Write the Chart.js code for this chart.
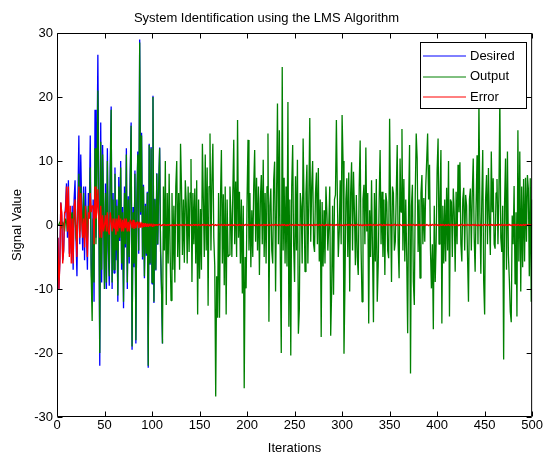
<!DOCTYPE html>
<html>
<head>
<title>System Identification using the LMS Algorithm</title>
<script src="https://cdn.jsdelivr.net/npm/chart.js"></script>
<style>
  body { margin: 0; background: #fff; }
</style>
</head>
<body>
<canvas id="chart" width="544" height="458"></canvas>
<script>
// tick labels
const xTicks = [0, 50, 100, 150, 200, 250, 300, 350, 400, 450, 500];
const yTicks = [-30, -20, -10, 0, 10, 20, 30];

// iterations 1-110: filter still adapting, output differs from desired
const desiredHead = [
  -2, -10, -5.5, 3.5, 1.5, -5.5, -4, 1, 3, 6.5,
  -2, 7, -4.5, 2, -4.5, 3, -7, 4, 7, -2,
  -8, 4, 14, -3, 11, 3, -4, 6, -5.5, 6,
  -1, -7, 5, 2, 14, -6, -12, 4, -12, 18,
  -2, 9, 26.6, 5, -22, 16, -9, 12.5, 2, -10,
  6.5, -10, 12, -4, -9.5, 9, 18.5, -10, 5, -7.5,
  9, -5.5, 4, -12, 7.5, -2.5, 10, -7, 2.8, -13,
  6, -3.5, 12, -10, 4.5, -6, 7.8, 16, -19.5, 2.8,
  -6.6, 8.5, -18.5, 3.4, 11.5, -4.5, 29, 1.6, 14.4, -5.4,
  6.3, -8.3, 3.3, -4.8, 5.2, -22.3, 12.7, -6.2, 12.2, -9.2,
  20.2, -12.2, 4.1, -7.1, 8.1, -3.1, 6.1, 12.1, -4.1, -10.1
];
const outputHead = [
  0, 0, 0.5, 0, -0.5, 0.5, 0, -1, 1, 0.5,
  -1, 1, 0.5, -1, 1.5, 2, -1, 1, 3, -2,
  -3, 1, 8, -1, 6, 2, -2, 5, -2, 3,
  1, -2, 3, 1, 9, -8, -15, 1, -9, 12,
  -3, 7, 21, 4, -20, 13, -7, 11, 3, -10,
  5, -9, 10, -3, -8, 7, 18, -9, 4, -7,
  8, -4, 3, -11, 6, -2, 9, -6, 2, -12,
  5, -3, 11, -9, 4, -5, 7, 15.5, -19, 2,
  -6, 8, -18, 3, 11, -4, 28.5, 2, 14, -5,
  6, -8, 3, -4.5, 5, -22, 12.5, -6, 12, -9,
  20, -12, 4, -7, 8, -3, 6, 12, -4, -10
];
const errorHead = [
  -2, -10, -6, 3.5, 2, -6, -4, 2, 2, 6,
  -1, 6, -5, 3, -6, 1, -6, 3, 4, 0,
  -5, 3, 6, -2, 5, 1, -2, 1, -3.5, 3,
  -2, -5, 2, 1, 5, 2, 3, 3, -3, 6,
  1, 2, 5.6, 1, -2, 3, -2, 1.5, -1, 0,
  1.5, -1, 2, -1, -1.5, 2, 0.5, -1, 1, -0.5,
  1, -1.5, 1, -1, 1.5, -0.5, 1, -1, 0.8, -1,
  1, -0.5, 1, -1, 0.5, -1, 0.8, 0.5, -0.5, 0.8,
  -0.6, 0.5, -0.5, 0.4, 0.5, -0.5, 0.5, -0.4, 0.4, -0.4,
  0.3, -0.3, 0.3, -0.3, 0.2, -0.3, 0.2, -0.2, 0.2, -0.2,
  0.2, -0.2, 0.1, -0.1, 0.1, -0.1, 0.1, 0.1, -0.1, -0.1
];

// iterations 111-500: converged, output sits on top of desired
const trackedTail = [
  -18.5, 6, -4, 10, -12.5, 5, -6, 8, -4, -11.8,
  5, -7, 3, -9, 6, 10, -5, 5, -7, 12.7,
  6, -4.7, 4, -5.9, 7, 3.4, -6, 6, -4.2, 5,
  10.3, -8.9, 5, -3, 5.7, -6, 7, -14, 4, -8.4,
  2.5, -7, 12.7, 4, -5, 11, -4, 9, -12.6, 6,
  14.3, -4, 7, 12.7, -2, -6.4, -26.8, -8, -14.5, 5,
  -14.5, 4, 11.7, -6, 4.8, -9.4, 6, -14, 4, -5,
  -4.7, 6, 1.9, -5, 5, 13.3, -3, 6.8, -5, 16.4,
  -2, 5.2, -6, 4, -10.7, 3, -25.5, -5, -9.9, 4,
  13.3, -4, 5, -6.6, 2.3, -5, 6, 11.7, -2.6, 7.4,
  -4, 6, -7.8, 4, 7.8, -3, 10.2, -5, 5, -6,
  6, 14.3, -15.1, 3, 5.7, -4, -6, 7, 9.9, -10.4,
  4, 19, -3, 14.8, -6, -20, 24.7, -4, 7.4, -6,
  6, -6.5, 19.2, -15.9, 4, -20.4, 6, 12.5, -3, -8.9,
  7.6, -4, 10.2, -17, -13.2, 5, 2.9, -6, 13.5, 3,
  -7.3, 5, 9.4, -6, 4, 16.7, -2.6, 6, 10, -3,
  -4.2, 5, 8.2, -3, 8.9, -5.7, 4, -17.5, 3.6, -6.5,
  2.3, -6, 6, 2, -4, -0.2, 6, -17.3, -10.4, 3,
  -10.9, 4, 4.7, 16.4, 4.7, -5, -1, 7, -3, 17.2,
  10, -20.1, -9.4, 4, 7.3, -5, 8.2, -10.4, 5, 9.8,
  -4, 8.3, 2, -6.3, 4.7, -5, -7.8, 6, 13.2, -4,
  -12, 4, 6.3, -3, 12.1, -1, 5, -15.4, 2.3, -5,
  7, -4, -15.2, 5, -5.7, 7.2, -12, -6.4, 4, 11.7,
  -3, 5.2, -5, 4, -7.8, 5, 3.6, -4, -5.2, 16.6,
  3, -8.9, 6, 5, -4, -2.6, 5, 12.5, -3, -8.3,
  10.4, 2, 15, -4, 7.2, -5.7, 4, -5, -16.9, 3,
  12.5, -23.2, 3, 6.3, -8.9, -12.5, 5, 14.3, 10.4, -4.2,
  4, -8.3, 5, 7.8, -3, 4.2, -2.6, 6, 10, 14.3,
  4, 9.4, -4, -9.9, -3, -16.3, 3, -8.9, -2.6, 8.6,
  13.5, -3, 4, 11.7, -15.4, 3, -6, 4, -5.7, 5.8,
  -4, 10, -14.3, 4, 3.6, -5, 5.7, 2, -7.3, 5.2,
  -3, 9.4, 2, 9.8, -3, -5.7, 4, 5.8, -4, 4.7,
  3, -5, -12, 4, 5.7, -4, 5, 10.4, -2, -7.3,
  3, 10.9, -3, 19.5, 2, -7.6, 4, 11.7, -8.9, -14,
  4, 7.8, -3, 8.9, 1, -4.7, 11.5, 2, 7.3, -3,
  -3.7, 5, 7.2, -3, 4.7, 20, -2, -4.2, 3, -21,
  3.6, 10.4, -7, 11.5, -4.7, -8.6, -13.6, -15.2, 1.5, -3,
  6.1, -9.2, 2, -14.3, 14.8, -5.7, 11.5, -10.4, 6, -6.6,
  7.2, -5.7, 7.4, -2.6, 7.8, 5.7, -8, 7.3, -12, 4
];
const errorTail = [
  0.1, -0.1, 0.1, 0, -0.1, 0.1, -0.1, 0.1, 0, -0.1,
  0.1, 0, -0.1, 0.1, -0.1, 0, 0.1, -0.1, 0.1, 0,
  -0.1, 0.1, 0, -0.1, 0.1, 0, -0.1, 0.1, -0.1, 0,
  0.1, -0.1, 0, 0.1, -0.1, 0.1, 0, -0.1, 0.1, 0,
  -0.1, 0, 0.1, -0.1, 0.1, 0, -0.1, 0.1, 0, -0.1,
  0.1, -0.1, 0, 0.1, 0, -0.1, 0.1, -0.1, 0, 0.1,
  0, -0.1, 0.1, 0, -0.1, 0.1, 0, -0.1, 0.1, -0.1,
  0.1, 0, -0.1, 0.1, -0.1, 0, 0.1, 0, -0.1, 0.1,
  -0.1, 0.1, 0, -0.1, 0.1, 0, -0.1, 0.1, 0, -0.1,
  0.1, 0, -0.1, 0.1, -0.1, 0.1, 0, -0.1, 0.1, 0,
  -0.1, 0.1, 0, -0.1, 0.1, -0.1, 0, 0.1, -0.1, 0.1,
  0, -0.1, 0.1, 0, -0.1, 0.1, 0, -0.1, 0.1, 0,
  0.1, -0.1, 0, 0.1, -0.1, 0, 0.1, -0.1, 0.1, 0,
  -0.1, 0.1, -0.1, 0, 0.1, 0, -0.1, 0.1, 0, -0.1,
  0.1, 0, -0.1, 0.1, -0.1, 0.1, 0, -0.1, 0, 0.1,
  -0.1, 0.1, 0, -0.1, 0.1, 0, -0.1, 0.1, -0.1, 0,
  0.1, -0.1, 0.1, 0, -0.1, 0.1, 0, -0.1, 0.1, 0,
  -0.1, 0, 0.1, -0.1, 0.1, 0, -0.1, 0.1, 0, -0.1,
  0.1, -0.1, 0, 0.1, -0.1, 0.1, 0, -0.1, 0.1, -0.1,
  0, 0.1, -0.1, 0, 0.1, -0.1, 0.1, 0, -0.1, 0.1,
  0, -0.1, 0.1, -0.1, 0, 0.1, 0, -0.1, 0.1, 0,
  -0.1, 0.1, 0, -0.1, 0.1, -0.1, 0, 0.1, -0.1, 0.1,
  0, -0.1, 0.1, 0, -0.1, 0.1, 0, -0.1, 0.1, 0,
  0.1, -0.1, 0, 0.1, -0.1, 0, 0.1, -0.1, 0.1, 0,
  -0.1, 0.1, -0.1, 0, 0.1, 0, -0.1, 0.1, 0, -0.1,
  0.1, 0, -0.1, 0.1, -0.1, 0.1, 0, -0.1, 0, 0.1,
  -0.1, 0.1, 0, -0.1, 0.1, 0, -0.1, 0.1, -0.1, 0,
  0.1, -0.1, 0.1, 0, -0.1, 0.1, 0, -0.1, 0.1, 0,
  -0.1, 0, 0.1, -0.1, 0.1, 0, -0.1, 0.1, 0, -0.1,
  0.1, -0.1, 0, 0.1, -0.1, 0.1, 0, -0.1, 0.1, -0.1,
  0, 0.1, -0.1, 0, 0.1, -0.1, 0.1, 0, -0.1, 0.1,
  0, -0.1, 0.1, -0.1, 0, 0.1, 0, -0.1, 0.1, 0,
  -0.1, 0.1, 0, -0.1, 0.1, -0.1, 0, 0.1, -0.1, 0.1,
  0, -0.1, 0.1, 0, -0.1, 0.1, 0, -0.1, 0.1, 0,
  0.1, -0.1, 0, 0.1, -0.1, 0, 0.1, -0.1, 0.1, 0,
  -0.1, 0.1, -0.1, 0, 0.1, 0, -0.1, 0.1, 0, -0.1,
  0.1, 0, -0.1, 0.1, -0.1, 0.1, 0, -0.1, 0, 0.1,
  -0.1, 0.1, 0, -0.1, 0.1, 0, -0.1, 0.1, -0.1, 0,
  0.1, -0.1, 0.1, 0, -0.1, 0.1, 0, -0.1, 0.1, 0
];

const desired = desiredHead.concat(trackedTail);
const output = outputHead.concat(trackedTail);
const error = errorHead.concat(errorTail);

const FONT = 'Liberation Sans, Arial, Helvetica, sans-serif';
const points = arr => arr.map((v, i) => ({ x: i + 1, y: v }));

// where desired and output coincide the green line covers the blue one completely
const sameAsOutput = i => desired[i] === output[i];
const hiddenUnderOutput = c =>
  sameAsOutput(c.p0DataIndex) && sameAsOutput(c.p1DataIndex) ? 'rgba(0,0,0,0)' : undefined;

// matlab-ish box with inward ticks on all four sides, plus the boxed legend
const axesBox = {
  id: 'axesBox',
  afterDatasetsDraw(chart) {
    const { ctx, chartArea: a, scales: { x, y } } = chart;
    const L = a.left + 0.5, R = a.right - 0.5, T = a.top + 0.5, B = a.bottom - 0.5;
    ctx.save();
    ctx.strokeStyle = '#000';
    ctx.lineWidth = 1;
    ctx.beginPath();
    ctx.rect(L, T, R - L, B - T);
    xTicks.forEach(v => {
      const px = Math.round(x.getPixelForValue(v)) + 0.5;
      ctx.moveTo(px, B); ctx.lineTo(px, B - 5);
      ctx.moveTo(px, T); ctx.lineTo(px, T + 5);
    });
    yTicks.forEach(v => {
      const py = Math.round(y.getPixelForValue(v)) + 0.5;
      ctx.moveTo(L, py); ctx.lineTo(L + 5, py);
      ctx.moveTo(R, py); ctx.lineTo(R - 5, py);
    });
    ctx.stroke();

    // legend
    const bx = 420.5, by = 42.5, bw = 106, bh = 66;
    ctx.fillStyle = '#fff';
    ctx.fillRect(bx, by, bw, bh);
    ctx.strokeRect(bx, by, bw, bh);
    ctx.font = '13px ' + FONT;
    ctx.textBaseline = 'middle';
    ctx.textAlign = 'left';
    chart.data.datasets.forEach((ds, i) => {
      const ly = 56 + i * 20.5;
      ctx.strokeStyle = ds.borderColor;
      ctx.beginPath();
      ctx.moveTo(423, Math.round(ly));
      ctx.lineTo(466, Math.round(ly));
      ctx.stroke();
      ctx.fillStyle = '#000';
      ctx.fillText(ds.label, 470, ly);
    });
    ctx.restore();
  }
};

new Chart(document.getElementById('chart'), {
  type: 'line',
  data: {
    datasets: [
      {
        label: 'Desired', data: points(desired), borderColor: '#0000ff', order: 3,
        segment: { borderColor: hiddenUnderOutput }
      },
      { label: 'Output', data: points(output), borderColor: '#008000', order: 2 },
      { label: 'Error', data: points(error), borderColor: '#ff0000', order: 1 }
    ]
  },
  options: {
    responsive: false,
    animation: false,
    parsing: false,
    layout: { padding: { left: 0, right: 11, top: 0, bottom: 0 } },
    elements: {
      line: { borderWidth: 1.3, tension: 0, fill: false, borderJoinStyle: 'bevel' },
      point: { radius: 0, hoverRadius: 0 }
    },
    plugins: {
      legend: { display: false },
      tooltip: { enabled: false },
      title: {
        display: true,
        text: 'System Identification using the LMS Algorithm',
        color: '#000',
        font: { family: FONT, size: 13, weight: 'normal' },
        padding: { top: 11, bottom: 6.4 }
      }
    },
    scales: {
      x: {
        type: 'linear',
        min: 0, max: 500,
        grid: { display: false, drawTicks: false },
        border: { display: false },
        afterBuildTicks: s => { s.ticks = xTicks.map(v => ({ value: v })); },
        afterFit: s => { s.height = 41; },
        ticks: { color: '#000', font: { family: FONT, size: 13 }, padding: 1, maxRotation: 0, autoSkip: false },
        title: {
          display: true, text: 'Iterations', color: '#000',
          font: { family: FONT, size: 13 }, padding: { top: 0, bottom: 2.2 }
        }
      },
      y: {
        type: 'linear',
        min: -30, max: 30,
        grid: { display: false, drawTicks: false },
        border: { display: false },
        afterBuildTicks: s => { s.ticks = yTicks.map(v => ({ value: v })); },
        afterFit: s => { s.width = 57; },
        ticks: { color: '#000', font: { family: FONT, size: 13 }, padding: 4 },
        title: {
          display: true, text: 'Signal Value', color: '#000',
          font: { family: FONT, size: 13 }, padding: { top: 10, bottom: 0 }
        }
      }
    }
  },
  plugins: [axesBox]
});
</script>
</body>
</html>
